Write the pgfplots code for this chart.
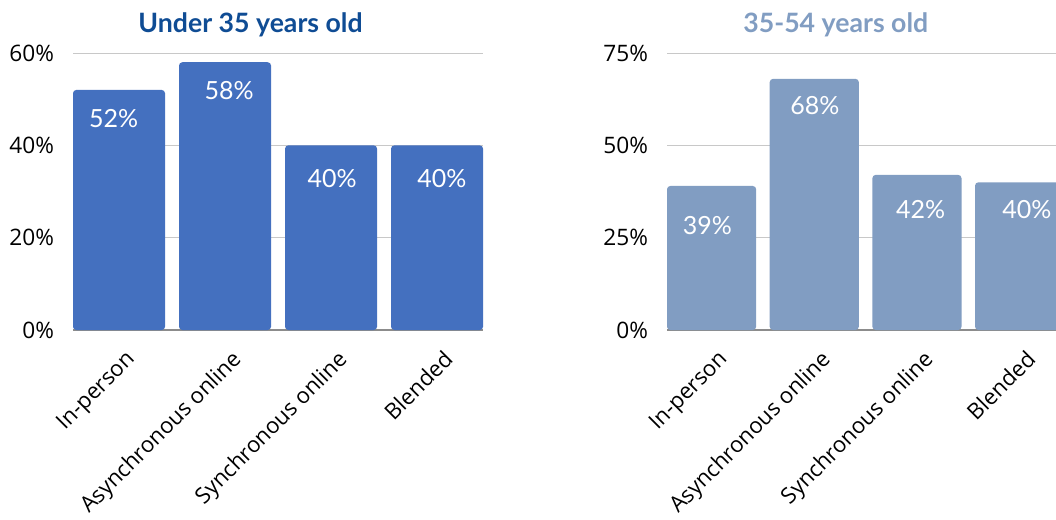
\documentclass[border=0pt]{standalone}
\usepackage{pgfplots}
\pgfplotsset{compat=1.18}
\usepackage{fontspec}
\setmainfont{Open Sans}
\newfontfamily\lato{Lato}
\definecolor{barA}{HTML}{4470BF}
\definecolor{barB}{HTML}{819DC2}
\definecolor{titleA}{HTML}{0F4C94}
\definecolor{gridc}{HTML}{C8C8C8}
\definecolor{axisc}{HTML}{8C8C8C}
\pgfplotsset{
  panel/.style={
    scale only axis,
    height=207.75pt,
    anchor=south west,
    xmin=-0.434, xmax=3.434,
    ymin=0,
    xtick={0,1,2,3},
    xticklabels={In-person,Asynchronous online,Synchronous online,Blended},
    x tick label style={xshift=4pt, yshift=-14pt, rotate=45, anchor=north east, inner sep=0pt, font=\fontsize{16.6}{19}\selectfont, text=black},
    y tick label style={anchor=east, inner sep=0pt, xshift=-14pt, font=\fontsize{17}{20}\selectfont, text=black},
    ymajorgrids,
    grid style={gridc, line width=0.75pt},
    axis x line*=bottom,
    axis y line*=left,
    x axis line style={axisc, line width=0.9pt, -},
    y axis line style={draw=none},
    major tick length=0pt,
    tick style={draw=none},
    clip=false,
    title style={anchor=base, yshift=9.75pt, font=\lato\bfseries\fontsize{20}{24}\selectfont},
  },
  barlabels/.style={draw=none, mark=none, nodes near coords, point meta=explicit symbolic,
    nodes near coords style={anchor=center, inner sep=0pt, text=white, font=\lato\fontsize{18.75}{22}\selectfont}},
}
\begin{document}
\begin{tikzpicture}
\clip (0,0) rectangle (792pt,389.25pt);
\begin{axis}[panel,
  at={(54.75pt,141.75pt)}, width=307.5pt,
  ymax=60, ytick={0,20,40,60}, yticklabels={0\%,20\%,40\%,60\%},
  title={Under 35 years old},
  title style={at={(0.433,1)}, text=titleA}]
\addplot[ybar, bar width=0.868, fill=barA, draw=none, rounded corners=2.5pt] coordinates {(0,52) (1,58) (2,40) (3,40)};
\addplot[barlabels] coordinates {(-0.05,45.7)[52\%] (1.04,51.9)[58\%] (2.01,32.7)[40\%] (3.045,32.7)[40\%]};
\end{axis}
\begin{axis}[panel,
  at={(500.25pt,141.75pt)}, width=297.9pt,
  ymax=75, ytick={0,25,50,75}, yticklabels={0\%,25\%,50\%,75\%},
  title={35-54 years old},
  title style={at={(0.425,1)}, text=barB}]
\addplot[ybar, bar width=0.868, fill=barB, draw=none, rounded corners=2.5pt] coordinates {(0,39) (1,68) (2,42) (3,40)};
\addplot[barlabels] coordinates {(-0.04,28.35)[39\%] (1.005,60.65)[68\%] (2.035,32.55)[42\%] (3.07,32.55)[40\%]};
\end{axis}
\end{tikzpicture}
\end{document}
